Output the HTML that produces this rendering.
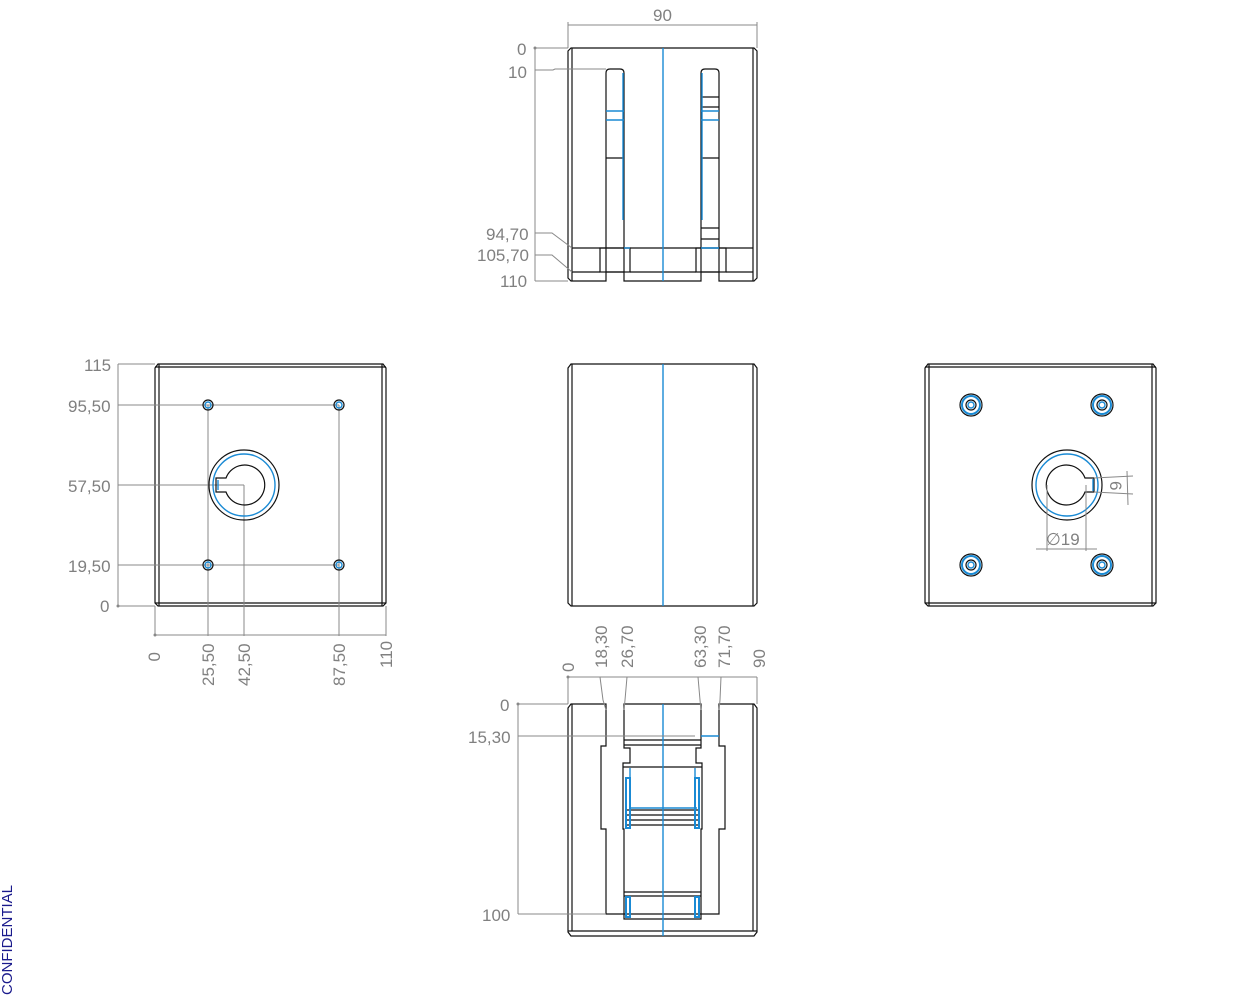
<!DOCTYPE html>
<html><head><meta charset="utf-8"><style>
html,body{margin:0;padding:0;background:#fff;width:1252px;height:996px;overflow:hidden}
svg{display:block}
text{font-family:"Liberation Sans",sans-serif;fill:#808080;font-size:17px}
.o{fill:none;stroke:#111;stroke-width:1.2}
.d{fill:none;stroke:#888;stroke-width:1}
.b{fill:none;stroke:#1a8ad4;stroke-width:1.4}
</style></head><body>
<svg width="1252" height="996" viewBox="0 0 1252 996">
<!-- TOP VIEW -->
<g>
<path class="o" d="M568,51 L571,48 L754,48 L757,51 L757,278 L754,281 L719,281 L719,272 L701,272 L701,281 L624,281 L624,272 L606,272 L606,281 L571,281 L568,278 Z"/>
<line class="o" x1="572" y1="48" x2="572" y2="281"/><line class="o" x1="753" y1="48" x2="753" y2="281"/>
<path class="o" d="M606,272 L606,73 Q606,69 610,69 L620,69 Q624,69 624,73 L624,272"/>
<path class="o" d="M701,272 L701,73 Q701,69 705,69 L715,69 Q719,69 719,73 L719,272"/>
<line class="o" x1="606" y1="158" x2="624" y2="158"/>
<line class="o" x1="701" y1="97" x2="719" y2="97"/><line class="o" x1="701" y1="107" x2="719" y2="107"/>
<line class="o" x1="701" y1="158" x2="719" y2="158"/>
<line class="o" x1="701" y1="228" x2="719" y2="228"/><line class="o" x1="701" y1="239" x2="719" y2="239"/>
<line class="b" x1="606" y1="111" x2="624" y2="111"/><line class="b" x1="606" y1="120" x2="624" y2="120"/>
<line class="b" x1="701" y1="111" x2="719" y2="111"/><line class="b" x1="701" y1="120" x2="719" y2="120"/>
<line class="b" x1="623" y1="73" x2="623" y2="220"/><line class="b" x1="702" y1="73" x2="702" y2="220"/>
<rect class="o" x="600" y="248" width="30" height="24"/><rect class="o" x="696" y="248" width="30" height="24"/>
<line class="o" x1="572" y1="248" x2="753" y2="248"/><line class="o" x1="572" y1="272" x2="600" y2="272"/><line class="o" x1="726" y1="272" x2="753" y2="272"/><line class="o" x1="630" y1="272" x2="696" y2="272"/>
<line class="b" x1="624" y1="248" x2="630" y2="248"/><line class="b" x1="701" y1="248" x2="719" y2="248"/>
<line class="b" x1="663" y1="48" x2="663" y2="281"/>
<line class="d" x1="568" y1="22" x2="568" y2="48"/><line class="d" x1="757" y1="22" x2="757" y2="48"/>
<line class="d" x1="568" y1="25" x2="757" y2="25"/>
<text x="653" y="21">90</text>
<line class="d" x1="535" y1="48" x2="568" y2="48"/><circle cx="535" cy="48" r="1.5" fill="#888"/>
<path class="d" d="M535,70 L553,70 L555,69 L606,69"/>
<line class="d" x1="535" y1="48" x2="535" y2="281"/>
<path class="d" d="M535,233 L552,233 L572,248"/><path class="d" d="M535,255 L552,255 L572,272"/>
<line class="d" x1="535" y1="281" x2="568" y2="281"/>
<text x="517" y="55">0</text><text x="508" y="78">10</text>
<text x="486" y="240">94,70</text><text x="477" y="261">105,70</text><text x="500" y="287">110</text>
</g>
<!-- LEFT VIEW -->
<g>
<path class="o" d="M155,368 L158,364 L383,364 L386,368 L386,603 L383,606 L158,606 L155,603 Z"/>
<line class="o" x1="159" y1="364" x2="159" y2="606"/><line class="o" x1="382" y1="364" x2="382" y2="606"/>
<line class="o" x1="155" y1="367" x2="386" y2="367"/><line class="o" x1="155" y1="603" x2="386" y2="603"/>
<g class="d">
<line x1="118" y1="364" x2="155" y2="364"/><line x1="118" y1="405" x2="339" y2="405"/><line x1="118" y1="485" x2="244" y2="485"/><line x1="118" y1="565" x2="339" y2="565"/><line x1="118" y1="606" x2="155" y2="606"/>
<line x1="118" y1="364" x2="118" y2="606"/>
<line x1="155" y1="606" x2="155" y2="636"/><line x1="208" y1="405" x2="208" y2="636"/><line x1="244" y1="485" x2="244" y2="636"/><line x1="339" y1="405" x2="339" y2="636"/><line x1="386" y1="606" x2="386" y2="636"/>
<line x1="155" y1="635" x2="386" y2="635"/>
</g>
<circle cx="118" cy="606" r="1.5" fill="#888"/><circle cx="155" cy="635" r="1.5" fill="#888"/>
<g>
<circle class="o" cx="208" cy="405" r="5"/><circle class="b" cx="208" cy="405" r="3"/>
<circle class="o" cx="339" cy="405" r="5"/><circle class="b" cx="339" cy="405" r="3"/>
<circle class="o" cx="208" cy="565" r="5"/><circle class="b" cx="208" cy="565" r="3"/>
<circle class="o" cx="339" cy="565" r="5"/><circle class="b" cx="339" cy="565" r="3"/>
</g>
<circle class="o" cx="244" cy="485" r="35"/><circle class="b" cx="244" cy="485" r="31"/>
<path class="o" d="M226,478 A20,20 0 1,1 226,492 L216,492 L216,478 Z"/>
<path class="b" d="M218,480 L218,490"/>
<text x="84" y="371">115</text><text x="68" y="412">95,50</text><text x="68" y="492">57,50</text><text x="68" y="572">19,50</text><text x="100" y="612">0</text>
<text transform="translate(160,652) rotate(-90)" text-anchor="end">0</text>
<text transform="translate(214,686) rotate(-90)">25,50</text>
<text transform="translate(250,686) rotate(-90)">42,50</text>
<text transform="translate(345,686) rotate(-90)">87,50</text>
<text transform="translate(392,668) rotate(-90)">110</text>
</g>
<!-- MIDDLE VIEW -->
<g>
<path class="o" d="M568,368 L571,364 L754,364 L757,368 L757,603 L754,606 L571,606 L568,603 Z"/>
<line class="o" x1="572" y1="364" x2="572" y2="606"/><line class="o" x1="753" y1="364" x2="753" y2="606"/>
<line class="b" x1="663" y1="364" x2="663" y2="606"/>
</g>
<!-- RIGHT VIEW -->
<g>
<path class="o" d="M925,368 L928,364 L1153,364 L1156,368 L1156,603 L1153,606 L928,606 L925,603 Z"/>
<line class="o" x1="929" y1="364" x2="929" y2="606"/><line class="o" x1="1152" y1="364" x2="1152" y2="606"/>
<line class="o" x1="925" y1="367" x2="1156" y2="367"/><line class="o" x1="925" y1="603" x2="1156" y2="603"/>
<g>
<circle class="o" cx="971" cy="405" r="11"/><circle cx="971" cy="405" r="9" fill="none" stroke="#1a8ad4" stroke-width="2"/><circle class="o" cx="971" cy="405" r="5"/><circle class="b" cx="971" cy="405" r="3"/>
<circle class="o" cx="1102" cy="405" r="11"/><circle cx="1102" cy="405" r="9" fill="none" stroke="#1a8ad4" stroke-width="2"/><circle class="o" cx="1102" cy="405" r="5"/><circle class="b" cx="1102" cy="405" r="3"/>
<circle class="o" cx="971" cy="565" r="11"/><circle cx="971" cy="565" r="9" fill="none" stroke="#1a8ad4" stroke-width="2"/><circle class="o" cx="971" cy="565" r="5"/><circle class="b" cx="971" cy="565" r="3"/>
<circle class="o" cx="1102" cy="565" r="11"/><circle cx="1102" cy="565" r="9" fill="none" stroke="#1a8ad4" stroke-width="2"/><circle class="o" cx="1102" cy="565" r="5"/><circle class="b" cx="1102" cy="565" r="3"/>
</g>
<circle class="o" cx="1067" cy="485" r="35"/><circle class="b" cx="1067" cy="485" r="31"/>
<path class="o" d="M1085,478 A20,20 0 1,0 1085,492 L1094,492 L1094,478 Z"/>
<line class="b" x1="1093" y1="479" x2="1093" y2="491"/>
<g class="d">
<line x1="1047" y1="485" x2="1047" y2="551"/><line x1="1086" y1="485" x2="1086" y2="551"/>
<line x1="1036" y1="549" x2="1097" y2="549"/>
<line x1="1094" y1="478" x2="1133" y2="476"/><line x1="1094" y1="492" x2="1133" y2="494"/>
<line x1="1127" y1="471" x2="1128" y2="505"/>
</g>
<text x="1046" y="545">∅19</text>
<text transform="translate(1110,481) rotate(90)" style="font-size:17px">6</text>
</g>
<!-- BOTTOM VIEW -->
<g>
<path class="o" d="M568,708 L571,704 L606,704 L606,746 L601,746 L601,829 L606,829 L606,914 L719,914 L719,829 L725,829 L725,746 L719,746 L719,704 L754,704 L757,708 L757,932 L754,936 L571,936 L568,932 Z"/>
<line class="o" x1="572" y1="704" x2="572" y2="931"/><line class="o" x1="753" y1="704" x2="753" y2="931"/><line class="o" x1="568" y1="931" x2="757" y2="931"/>
<path class="o" d="M624,704 L701,704 L701,748 L696,748 L696,763 L702,763 L702,829 L701,829 L701,919 L624,919 L624,829 L623,829 L623,763 L630,763 L630,748 L624,748 Z"/>
<line class="o" x1="624" y1="740" x2="701" y2="740"/><line class="o" x1="624" y1="745" x2="701" y2="745"/>
<line class="o" x1="623" y1="767" x2="702" y2="767"/>
<line class="o" x1="626" y1="810" x2="699" y2="810"/><line class="o" x1="626" y1="815" x2="699" y2="815"/><line class="o" x1="626" y1="820" x2="699" y2="820"/><line class="o" x1="626" y1="825" x2="699" y2="825"/>
<line class="o" x1="624" y1="892" x2="701" y2="892"/><line class="o" x1="624" y1="896" x2="701" y2="896"/>
<rect x="626" y="778" width="4" height="50" fill="none" stroke="#1a8ad4" stroke-width="2"/>
<rect x="695" y="778" width="4" height="50" fill="none" stroke="#1a8ad4" stroke-width="2"/>
<rect x="626" y="897" width="4" height="20" fill="none" stroke="#1a8ad4" stroke-width="2"/>
<rect x="695" y="897" width="4" height="20" fill="none" stroke="#1a8ad4" stroke-width="2"/>
<line class="b" x1="630" y1="768" x2="630" y2="808"/><line class="b" x1="695" y1="768" x2="695" y2="808"/>
<line class="b" x1="629" y1="808" x2="697" y2="808"/>
<line class="b" x1="701" y1="736" x2="719" y2="736"/>
<line class="b" x1="663" y1="704" x2="663" y2="936"/>
<g class="d">
<line x1="568" y1="677" x2="757" y2="677"/>
<line x1="568" y1="677" x2="568" y2="704"/><line x1="757" y1="677" x2="757" y2="704"/>
<path d="M600,677 L603,700 L606,710"/><path d="M627,677 L625,700 L624,710"/>
<path d="M698,677 L700,700 L701,710"/><path d="M721,677 L720,700 L719,710"/>
<line x1="518" y1="704" x2="568" y2="704"/><line x1="518" y1="736" x2="695" y2="736"/><line x1="518" y1="914" x2="606" y2="914"/>
<line x1="518" y1="704" x2="518" y2="914"/>
</g>
<circle cx="568" cy="677" r="1.5" fill="#888"/><circle cx="518" cy="704" r="1.5" fill="#888"/>
<text transform="translate(574,672) rotate(-90)">0</text>
<text transform="translate(607,668) rotate(-90)">18,30</text>
<text transform="translate(633,668) rotate(-90)">26,70</text>
<text transform="translate(706,668) rotate(-90)">63,30</text>
<text transform="translate(730,668) rotate(-90)">71,70</text>
<text transform="translate(765,668) rotate(-90)">90</text>
<text x="500" y="711">0</text><text x="468" y="743">15,30</text><text x="482" y="921">100</text>
</g>
<text transform="translate(12,995) rotate(-90)" style="fill:#1a1a8c;font-size:15px">CONFIDENTIAL</text>
</svg>
</body></html>
